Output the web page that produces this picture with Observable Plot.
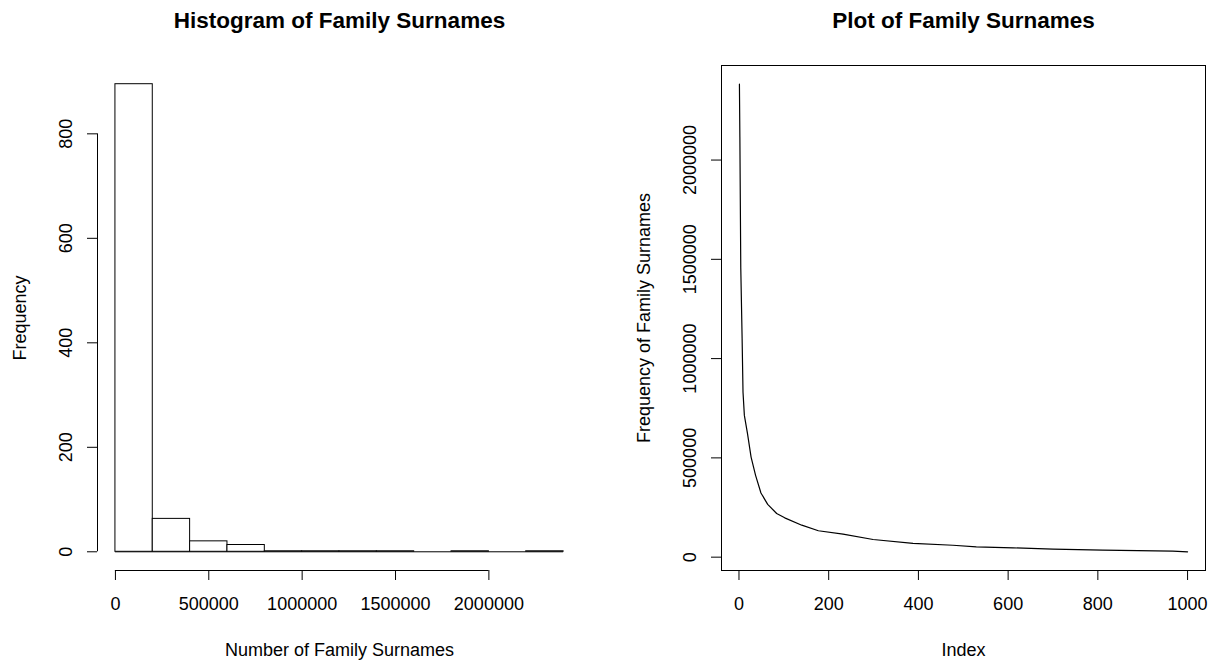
<!DOCTYPE html>
<html><head><meta charset="utf-8">
<script src="https://cdn.jsdelivr.net/npm/d3@7"></script>
<script src="https://cdn.jsdelivr.net/npm/@observablehq/plot@0.6"></script>
<style>
body{margin:0;background:#fff;}
#wrap{position:relative;width:1212px;height:660px;overflow:hidden;}
#left,#right{position:absolute;top:0;}
#left{left:0;}
#right{left:606px;}
</style></head><body><div id="wrap"><div id="left"></div><div id="right"></div></div>
<script>
// ---- Histogram data ----
const binEdges = [0, 200000, 400000, 600000, 800000, 1000000, 1200000, 1400000, 1600000, 1800000, 2000000, 2200000, 2400000];
const binCounts = [895, 63, 20, 13, 1, 1, 1, 1, 0, 1, 0, 1];
const histXTicks = [0, 500000, 1000000, 1500000, 2000000];
const histYTicks = [0, 200, 400, 600, 800];

// ---- Sorted surname frequencies ----
const surnameIndex = [1, 2, 4, 7, 9, 12, 19, 27, 37, 49, 64, 84, 102, 140, 177, 232, 299, 388, 477, 529, 611, 700, 811, 967, 1000];
const surnameFreq = [2382000, 2116000, 1457000, 1100000, 831000, 714000, 622000, 504000, 412000, 323000, 266000, 220000, 198000, 161000, 133000, 116000, 89000, 69000, 60000, 52000, 47000, 40000, 35000, 30000, 27000];
const plotXTicks = [0, 200, 400, 600, 800, 1000];
const plotYTicks = [0, 500000, 1000000, 1500000, 2000000];

const titles = ["Histogram of Family Surnames", "Plot of Family Surnames"];
const xLabels = ["Number of Family Surnames", "Index"];
const yLabels = ["Frequency", "Frequency of Family Surnames"];

function extend(lo, hi) { const d = (hi - lo) * 0.04; return [lo - d, hi + d]; }
const fmt = d => String(d);
const FONT = "'Liberation Sans', Arial, Helvetica, sans-serif";
const baseStyle = {fontFamily: FONT, fontSize: "18px", background: "#fff", color: "#000", overflow: "visible"};

function titleMarks(i) {
  return [
    Plot.text([titles[i]], {text: d => d, frameAnchor: "top", textAnchor: "middle", lineAnchor: "bottom", dy: -38, fontSize: 22.5, fontWeight: "bold", fill: "#000"}),
    Plot.text([xLabels[i]], {text: d => d, frameAnchor: "bottom", textAnchor: "middle", lineAnchor: "bottom", dy: 85, fill: "#000"}),
    Plot.text([yLabels[i]], {text: d => d, frameAnchor: "left", textAnchor: "middle", lineAnchor: "bottom", rotate: -90, dx: -72, fill: "#000"})
  ];
}

// ---- Left: histogram ----
const bins = binCounts.map((c, i) => ({x1: binEdges[i], x2: binEdges[i + 1], count: c}));
const hxDom = extend(d3.min(binEdges), d3.max(binEdges));
const hyDom = extend(0, d3.max(binCounts));

const left = Plot.plot({
  width: 606, height: 660,
  marginLeft: 97, marginRight: 25, marginTop: 65, marginBottom: 90,
  style: baseStyle,
  x: {domain: hxDom},
  y: {domain: hyDom},
  marks: [
    Plot.ruleY([0], {x1: d3.min(binEdges), x2: d3.max(binEdges), stroke: "#000", strokeWidth: 1}),
    Plot.rectY(bins, {x1: "x1", x2: "x2", y1: 0, y2: "count", fill: "#fff", stroke: "#000", strokeWidth: 1}),
    Plot.ruleY([hyDom[0]], {x1: d3.min(histXTicks), x2: d3.max(histXTicks), stroke: "#000", strokeWidth: 1}),
    Plot.ruleX([hxDom[0]], {y1: d3.min(histYTicks), y2: d3.max(histYTicks), stroke: "#000", strokeWidth: 1}),
    Plot.axisX(histXTicks, {tickSize: 10, tickPadding: 17, tickFormat: fmt, label: null, stroke: "#000", fill: "#000"}),
    Plot.axisY(histYTicks, {tickSize: 10, tickPadding: 16, tickRotate: -90, tickFormat: fmt, label: null, stroke: "#000", fill: "#000"}),
    ...titleMarks(0)
  ]
});
document.getElementById("left").appendChild(left);

// ---- Right: index plot ----
const pts = surnameIndex.map((x, i) => ({index: x, freq: surnameFreq[i]}));
const pxDom = extend(d3.min(surnameIndex), d3.max(surnameIndex));
const pyDom = extend(d3.min(surnameFreq), d3.max(surnameFreq));

const right = Plot.plot({
  width: 606, height: 660,
  marginLeft: 115, marginRight: 7, marginTop: 65, marginBottom: 90,
  style: baseStyle,
  x: {domain: pxDom},
  y: {domain: pyDom},
  marks: [
    Plot.frame({stroke: "#000", strokeWidth: 1}),
    Plot.line(pts, {x: "index", y: "freq", stroke: "#000", strokeWidth: 1.2}),
    Plot.axisX(plotXTicks, {tickSize: 10, tickPadding: 17, tickFormat: fmt, label: null, stroke: "#000", fill: "#000"}),
    Plot.axisY(plotYTicks, {tickSize: 10, tickPadding: 16, tickRotate: -90, tickFormat: fmt, label: null, stroke: "#000", fill: "#000"}),
    ...titleMarks(1)
  ]
});
document.getElementById("right").appendChild(right);
</script>
</body></html>
